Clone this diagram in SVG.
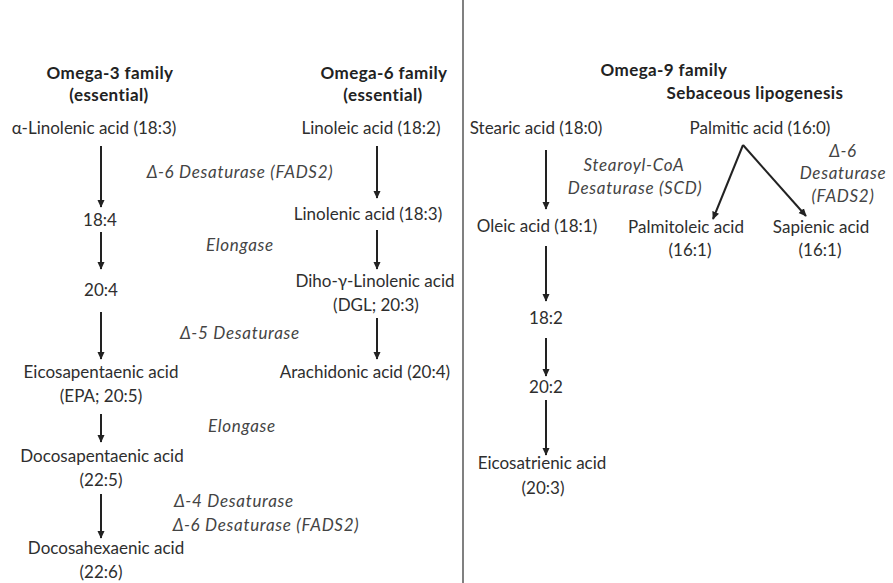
<svg xmlns="http://www.w3.org/2000/svg" width="893" height="583" viewBox="0 0 893 583">
<defs>
<marker id="ah" viewBox="0 0 10 10" refX="9" refY="5" markerWidth="8" markerHeight="8" orient="auto" markerUnits="userSpaceOnUse">
<path d="M0,0.5 L10,5 L0,9.5 Z" fill="#222"/>
</marker>
<style>
text{font-family:Lato,"Liberation Sans",sans-serif;font-size:17px;fill:#2e2e2e;text-anchor:middle}
.t{font-weight:bold;fill:#222;letter-spacing:0.4px}
.e{font-style:italic;fill:#444;letter-spacing:0.7px}
.c line{stroke:#222;stroke-width:2;marker-end:url(#ah)}
</style>
</defs>
<rect width="893" height="583" fill="#fff"/>
<line x1="463" y1="0" x2="463" y2="583" stroke="#808080" stroke-width="2"/>
<g id="titles">
<text class="t" x="110" y="79">Omega-3 family</text>
<text class="t" x="109" y="101">(essential)</text>
<text class="t" x="384" y="79">Omega-6 family</text>
<text class="t" x="383" y="101">(essential)</text>
<text class="t" x="664" y="76">Omega-9 family</text>
<text class="t" x="755" y="99">Sebaceous lipogenesis</text>
</g>
<g id="n3a"><text x="94" y="134">α-Linolenic acid (18:3)</text></g>
<g id="n3b"><text x="100" y="226">18:4</text></g>
<g id="n3c"><text x="101" y="296">20:4</text></g>
<g id="n3d"><text x="101" y="378">Eicosapentaenic acid</text><text x="101" y="402">(EPA; 20:5)</text></g>
<g id="n3e"><text x="102" y="462">Docosapentaenic acid</text><text x="101" y="486">(22:5)</text></g>
<g id="n3f"><text x="106" y="554">Docosahexaenic acid</text><text x="101" y="578">(22:6)</text></g>
<g id="n6a"><text x="371" y="134">Linoleic acid (18:2)</text></g>
<g id="n6b"><text x="368" y="220">Linolenic acid (18:3)</text></g>
<g id="n6c"><text x="375" y="287">Diho-γ-Linolenic acid</text><text x="376" y="311">(DGL; 20:3)</text></g>
<g id="n6d"><text x="365" y="378">Arachidonic acid (20:4)</text></g>
<g id="n9a"><text x="536" y="134">Stearic acid (18:0)</text></g>
<g id="n9b"><text x="537" y="232">Oleic acid (18:1)</text></g>
<g id="n9c"><text x="546" y="324">18:2</text></g>
<g id="n9d"><text x="546" y="393">20:2</text></g>
<g id="n9e"><text x="542" y="469">Eicosatrienic acid</text><text x="543" y="494">(20:3)</text></g>
<g id="sa"><text x="760" y="134">Palmitic acid (16:0)</text></g>
<g id="sb"><text x="686" y="233">Palmitoleic acid</text><text x="690" y="256">(16:1)</text></g>
<g id="sc"><text x="821" y="233">Sapienic acid</text><text x="820" y="256">(16:1)</text></g>
<g id="enzymes">
<text class="e" x="240" y="178">Δ-6 Desaturase (FADS2)</text>
<text class="e" x="240" y="251">Elongase</text>
<text class="e" x="240" y="339">Δ-5 Desaturase</text>
<text class="e" x="242" y="432">Elongase</text>
<text class="e" x="234" y="507">Δ-4 Desaturase</text>
<text class="e" x="266" y="531">Δ-6 Desaturase (FADS2)</text>
<text class="e" x="634" y="171">Stearoyl-CoA</text>
<text class="e" x="635" y="194">Desaturase (SCD)</text>
<text class="e" x="843" y="157">Δ-6</text>
<text class="e" x="843" y="179">Desaturase</text>
<text class="e" x="843" y="202">(FADS2)</text>
</g>
<g id="connectors" class="c">
<line x1="101" y1="146" x2="101" y2="207"/>
<line x1="101" y1="232" x2="101" y2="269"/>
<line x1="101" y1="312" x2="101" y2="359"/>
<line x1="101" y1="414" x2="101" y2="442"/>
<line x1="101" y1="494" x2="101" y2="538"/>
<line x1="377" y1="146" x2="377" y2="198"/>
<line x1="377" y1="230" x2="377" y2="269"/>
<line x1="377" y1="318" x2="377" y2="359"/>
<line x1="546" y1="150" x2="546" y2="209"/>
<line x1="546" y1="246" x2="546" y2="301"/>
<line x1="546" y1="338" x2="546" y2="376"/>
<line x1="546" y1="400" x2="546" y2="455"/>
<line x1="743" y1="145" x2="713" y2="219"/>
<line x1="743" y1="145" x2="806" y2="216"/>
</g>
</svg>
